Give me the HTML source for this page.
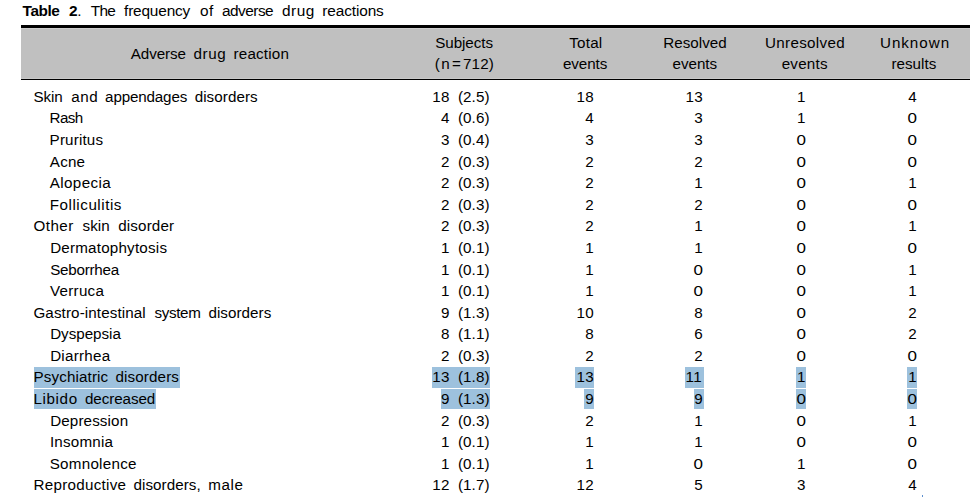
<!DOCTYPE html><html><head><meta charset="utf-8"><title>Table 2</title><style>
html,body{margin:0;padding:0;background:#fff}
body{width:979px;height:497px;position:relative;overflow:hidden;font-family:"Liberation Sans", sans-serif;font-size:15.2px;line-height:20px;color:#000}
.t{position:absolute;white-space:pre}.b{font-weight:bold}.r{text-align:right}
.bar{position:absolute;left:21px;width:949px;background:#000}
.hd{position:absolute;left:21px;top:28px;width:949px;height:51px;background:#c0c0c0;border-top:1px solid #cdcdcd;border-bottom:1px solid #c9c9c9;box-sizing:border-box}
.hl{position:absolute;background:#9dc1dd}
</style></head><body>
<div class="hd"></div>
<div class="bar" style="top:25px;height:3px"></div>
<div class="bar" style="top:79px;height:1px"></div>
<div class="hl" style="left:33.8px;top:367px;width:146.4px;height:21px"></div>
<div class="hl" style="left:33.8px;top:389px;width:122.2px;height:20px"></div>
<div class="hl" style="left:432.3px;top:367px;width:57.6px;height:21px"></div>
<div class="hl" style="left:441.0px;top:389px;width:48.9px;height:20px"></div>
<div class="hl" style="left:575.3px;top:367px;width:18.7px;height:21px"></div>
<div class="hl" style="left:584.0px;top:389px;width:10.0px;height:20px"></div>
<div class="hl" style="left:685.1px;top:367px;width:18.7px;height:21px"></div>
<div class="hl" style="left:693.7px;top:389px;width:10.1px;height:20px"></div>
<div class="hl" style="left:795.9px;top:367px;width:9.9px;height:21px"></div>
<div class="hl" style="left:795.9px;top:389px;width:9.9px;height:20px"></div>
<div class="hl" style="left:907.1px;top:367px;width:9.9px;height:21px"></div>
<div class="hl" style="left:907.1px;top:389px;width:9.9px;height:20px"></div>
<div style="position:absolute;left:921.5px;top:495px;width:1.5px;height:2px;background:#5b8fd0"></div>
<span class="t b" style="left:22.62px;top:1px;font-size:15.4px;letter-spacing:-0.448px">Table</span>
<span class="t b" style="left:68.96px;top:1px;font-size:15.4px">2</span>
<span class="t" style="left:77.28px;top:1px;font-size:15.4px">.</span>
<span class="t" style="left:90.74px;top:1px;font-size:15.4px;letter-spacing:-0.736px">The</span>
<span class="t" style="left:124.06px;top:1px;font-size:15.4px;letter-spacing:-0.174px">frequency</span>
<span class="t" style="left:200.03px;top:1px;font-size:15.4px;letter-spacing:0.338px">of</span>
<span class="t" style="left:222.02px;top:1px;font-size:15.4px;letter-spacing:-0.515px">adverse</span>
<span class="t" style="left:282.10px;top:1px;font-size:15.4px;letter-spacing:0.465px">drug</span>
<span class="t" style="left:322.34px;top:1px;font-size:15.4px;letter-spacing:-0.128px">reactions</span>
<span class="t" style="left:130.80px;top:44px;letter-spacing:-0.114px">Adverse</span>
<span class="t" style="left:193.50px;top:44px;letter-spacing:0.624px">drug</span>
<span class="t" style="left:233.57px;top:44px;letter-spacing:0.181px">reaction</span>
<span class="t" style="left:435.21px;top:33px;letter-spacing:-0.061px">Subjects</span>
<span class="t" style="left:569.25px;top:33px;letter-spacing:0.213px">Total</span>
<span class="t" style="left:663.31px;top:33px;letter-spacing:0.008px">Resolved</span>
<span class="t" style="left:764.94px;top:33px;letter-spacing:0.329px">Unresolved</span>
<span class="t" style="left:879.94px;top:33px;letter-spacing:0.971px">Unknown</span>
<span class="t" style="left:434.80px;top:54px;letter-spacing:1.398px">(n</span>
<span class="t" style="left:451.94px;top:54px">=</span>
<span class="t" style="left:462.91px;top:54px;letter-spacing:0.192px">712)</span>
<span class="t" style="left:562.97px;top:54px;letter-spacing:-0.083px">events</span>
<span class="t" style="left:672.59px;top:54px;letter-spacing:-0.036px">events</span>
<span class="t" style="left:781.64px;top:54px;letter-spacing:0.237px">events</span>
<span class="t" style="left:891.42px;top:54px;letter-spacing:0.022px">results</span>
<span class="t" style="left:33.53px;top:87px;letter-spacing:-0.111px">Skin</span>
<span class="t" style="left:71.32px;top:87px;letter-spacing:0.538px">and</span>
<span class="t" style="left:105.10px;top:87px;letter-spacing:-0.161px">appendages</span>
<span class="t" style="left:194.65px;top:87px;letter-spacing:0.068px">disorders</span>
<span class="t" style="left:49.60px;top:108px;letter-spacing:-0.659px">Rash</span>
<span class="t" style="left:49.60px;top:130px;letter-spacing:0.161px">Pruritus</span>
<span class="t" style="left:49.80px;top:152px;letter-spacing:0.207px">Acne</span>
<span class="t" style="left:49.80px;top:173px;letter-spacing:0.369px">Alopecia</span>
<span class="t" style="left:49.79px;top:195px;letter-spacing:0.528px">Folliculitis</span>
<span class="t" style="left:33.42px;top:216px;letter-spacing:0.486px">Other</span>
<span class="t" style="left:82.47px;top:216px;letter-spacing:0.074px">skin</span>
<span class="t" style="left:118.14px;top:216px;letter-spacing:0.166px">disorder</span>
<span class="t" style="left:50.15px;top:238px;letter-spacing:0.206px">Dermatophytosis</span>
<span class="t" style="left:50.15px;top:260px;letter-spacing:-0.245px">Seborrhea</span>
<span class="t" style="left:50.07px;top:281px;letter-spacing:0.241px">Verruca</span>
<span class="t" style="left:33.41px;top:303px;letter-spacing:0.109px">Gastro-intestinal</span>
<span class="t" style="left:154.40px;top:303px;letter-spacing:-0.332px">system</span>
<span class="t" style="left:208.41px;top:303px;letter-spacing:0.056px">disorders</span>
<span class="t" style="left:50.15px;top:324px;letter-spacing:-0.021px">Dyspepsia</span>
<span class="t" style="left:50.15px;top:346px;letter-spacing:0.244px">Diarrhea</span>
<span class="t" style="left:33.54px;top:367px;letter-spacing:0.124px">Psychiatric</span>
<span class="t" style="left:115.41px;top:367px;letter-spacing:0.131px">disorders</span>
<span class="t" style="left:33.54px;top:389px;letter-spacing:0.608px">Libido</span>
<span class="t" style="left:84.94px;top:389px;letter-spacing:-0.075px">decreased</span>
<span class="t" style="left:50.15px;top:411px;letter-spacing:0.129px">Depression</span>
<span class="t" style="left:49.88px;top:432px;letter-spacing:0.214px">Insomnia</span>
<span class="t" style="left:49.74px;top:454px;letter-spacing:0.253px">Somnolence</span>
<span class="t" style="left:33.54px;top:475px;letter-spacing:0.267px">Reproductive</span>
<span class="t" style="left:133.50px;top:475px;letter-spacing:0.056px">disorders,</span>
<span class="t" style="left:208.14px;top:475px;letter-spacing:0.668px">male</span>
<span class="t" style="left:432.33px;top:87px;letter-spacing:0.300px">18</span>
<span class="t" style="left:457.93px;top:87px;letter-spacing:0.077px">(2.5)</span>
<span class="t" style="left:576.53px;top:87px;letter-spacing:0.300px">18</span>
<span class="t" style="left:685.53px;top:87px;letter-spacing:0.300px">13</span>
<span class="t" style="left:796.93px;top:87px">1</span>
<span class="t" style="left:908.28px;top:87px">4</span>
<span class="t" style="left:441.08px;top:108px">4</span>
<span class="t" style="left:457.93px;top:108px;letter-spacing:0.077px">(0.6)</span>
<span class="t" style="left:585.28px;top:108px">4</span>
<span class="t" style="left:694.28px;top:108px">3</span>
<span class="t" style="left:796.93px;top:108px">1</span>
<span class="t" style="left:908.28px;top:108px;transform:scaleX(1.12)">0</span>
<span class="t" style="left:441.08px;top:130px">3</span>
<span class="t" style="left:457.93px;top:130px;letter-spacing:0.077px">(0.4)</span>
<span class="t" style="left:585.28px;top:130px">3</span>
<span class="t" style="left:694.28px;top:130px">3</span>
<span class="t" style="left:796.93px;top:130px;transform:scaleX(1.12)">0</span>
<span class="t" style="left:908.28px;top:130px;transform:scaleX(1.12)">0</span>
<span class="t" style="left:441.08px;top:152px">2</span>
<span class="t" style="left:457.93px;top:152px;letter-spacing:0.077px">(0.3)</span>
<span class="t" style="left:585.28px;top:152px">2</span>
<span class="t" style="left:694.28px;top:152px">2</span>
<span class="t" style="left:796.93px;top:152px;transform:scaleX(1.12)">0</span>
<span class="t" style="left:908.28px;top:152px;transform:scaleX(1.12)">0</span>
<span class="t" style="left:441.08px;top:173px">2</span>
<span class="t" style="left:457.93px;top:173px;letter-spacing:0.077px">(0.3)</span>
<span class="t" style="left:585.28px;top:173px">2</span>
<span class="t" style="left:694.28px;top:173px">1</span>
<span class="t" style="left:796.93px;top:173px;transform:scaleX(1.12)">0</span>
<span class="t" style="left:908.28px;top:173px">1</span>
<span class="t" style="left:441.08px;top:195px">2</span>
<span class="t" style="left:457.93px;top:195px;letter-spacing:0.077px">(0.3)</span>
<span class="t" style="left:585.28px;top:195px">2</span>
<span class="t" style="left:694.28px;top:195px">2</span>
<span class="t" style="left:796.93px;top:195px;transform:scaleX(1.12)">0</span>
<span class="t" style="left:908.28px;top:195px;transform:scaleX(1.12)">0</span>
<span class="t" style="left:441.08px;top:216px">2</span>
<span class="t" style="left:457.93px;top:216px;letter-spacing:0.077px">(0.3)</span>
<span class="t" style="left:585.28px;top:216px">2</span>
<span class="t" style="left:694.28px;top:216px">1</span>
<span class="t" style="left:796.93px;top:216px;transform:scaleX(1.12)">0</span>
<span class="t" style="left:908.28px;top:216px">1</span>
<span class="t" style="left:441.08px;top:238px">1</span>
<span class="t" style="left:457.93px;top:238px;letter-spacing:0.077px">(0.1)</span>
<span class="t" style="left:585.28px;top:238px">1</span>
<span class="t" style="left:694.28px;top:238px">1</span>
<span class="t" style="left:796.93px;top:238px;transform:scaleX(1.12)">0</span>
<span class="t" style="left:908.28px;top:238px;transform:scaleX(1.12)">0</span>
<span class="t" style="left:441.08px;top:260px">1</span>
<span class="t" style="left:457.93px;top:260px;letter-spacing:0.077px">(0.1)</span>
<span class="t" style="left:585.28px;top:260px">1</span>
<span class="t" style="left:694.28px;top:260px;transform:scaleX(1.12)">0</span>
<span class="t" style="left:796.93px;top:260px;transform:scaleX(1.12)">0</span>
<span class="t" style="left:908.28px;top:260px">1</span>
<span class="t" style="left:441.08px;top:281px">1</span>
<span class="t" style="left:457.93px;top:281px;letter-spacing:0.077px">(0.1)</span>
<span class="t" style="left:585.28px;top:281px">1</span>
<span class="t" style="left:694.28px;top:281px;transform:scaleX(1.12)">0</span>
<span class="t" style="left:796.93px;top:281px;transform:scaleX(1.12)">0</span>
<span class="t" style="left:908.28px;top:281px">1</span>
<span class="t" style="left:441.08px;top:303px">9</span>
<span class="t" style="left:457.93px;top:303px;letter-spacing:0.077px">(1.3)</span>
<span class="t" style="left:576.53px;top:303px;letter-spacing:0.300px">10</span>
<span class="t" style="left:694.28px;top:303px">8</span>
<span class="t" style="left:796.93px;top:303px;transform:scaleX(1.12)">0</span>
<span class="t" style="left:908.28px;top:303px">2</span>
<span class="t" style="left:441.08px;top:324px">8</span>
<span class="t" style="left:457.93px;top:324px;letter-spacing:0.077px">(1.1)</span>
<span class="t" style="left:585.28px;top:324px">8</span>
<span class="t" style="left:694.28px;top:324px">6</span>
<span class="t" style="left:796.93px;top:324px;transform:scaleX(1.12)">0</span>
<span class="t" style="left:908.28px;top:324px">2</span>
<span class="t" style="left:441.08px;top:346px">2</span>
<span class="t" style="left:457.93px;top:346px;letter-spacing:0.077px">(0.3)</span>
<span class="t" style="left:585.28px;top:346px">2</span>
<span class="t" style="left:694.28px;top:346px">2</span>
<span class="t" style="left:796.93px;top:346px;transform:scaleX(1.12)">0</span>
<span class="t" style="left:908.28px;top:346px;transform:scaleX(1.12)">0</span>
<span class="t" style="left:432.33px;top:367px;letter-spacing:0.300px">13</span>
<span class="t" style="left:457.93px;top:367px;letter-spacing:0.077px">(1.8)</span>
<span class="t" style="left:576.53px;top:367px;letter-spacing:0.300px">13</span>
<span class="t" style="left:685.53px;top:367px;letter-spacing:0.300px">11</span>
<span class="t" style="left:796.93px;top:367px">1</span>
<span class="t" style="left:908.28px;top:367px">1</span>
<span class="t" style="left:441.08px;top:389px">9</span>
<span class="t" style="left:457.93px;top:389px;letter-spacing:0.077px">(1.3)</span>
<span class="t" style="left:585.28px;top:389px">9</span>
<span class="t" style="left:694.28px;top:389px">9</span>
<span class="t" style="left:796.93px;top:389px;transform:scaleX(1.12)">0</span>
<span class="t" style="left:908.28px;top:389px;transform:scaleX(1.12)">0</span>
<span class="t" style="left:441.08px;top:411px">2</span>
<span class="t" style="left:457.93px;top:411px;letter-spacing:0.077px">(0.3)</span>
<span class="t" style="left:585.28px;top:411px">2</span>
<span class="t" style="left:694.28px;top:411px">1</span>
<span class="t" style="left:796.93px;top:411px;transform:scaleX(1.12)">0</span>
<span class="t" style="left:908.28px;top:411px">1</span>
<span class="t" style="left:441.08px;top:432px">1</span>
<span class="t" style="left:457.93px;top:432px;letter-spacing:0.077px">(0.1)</span>
<span class="t" style="left:585.28px;top:432px">1</span>
<span class="t" style="left:694.28px;top:432px">1</span>
<span class="t" style="left:796.93px;top:432px;transform:scaleX(1.12)">0</span>
<span class="t" style="left:908.28px;top:432px;transform:scaleX(1.12)">0</span>
<span class="t" style="left:441.08px;top:454px">1</span>
<span class="t" style="left:457.93px;top:454px;letter-spacing:0.077px">(0.1)</span>
<span class="t" style="left:585.28px;top:454px">1</span>
<span class="t" style="left:694.28px;top:454px;transform:scaleX(1.12)">0</span>
<span class="t" style="left:796.93px;top:454px">1</span>
<span class="t" style="left:908.28px;top:454px;transform:scaleX(1.12)">0</span>
<span class="t" style="left:432.33px;top:475px;letter-spacing:0.300px">12</span>
<span class="t" style="left:457.93px;top:475px;letter-spacing:0.077px">(1.7)</span>
<span class="t" style="left:576.53px;top:475px;letter-spacing:0.300px">12</span>
<span class="t" style="left:694.28px;top:475px">5</span>
<span class="t" style="left:796.93px;top:475px">3</span>
<span class="t" style="left:908.28px;top:475px">4</span>
</body></html>
